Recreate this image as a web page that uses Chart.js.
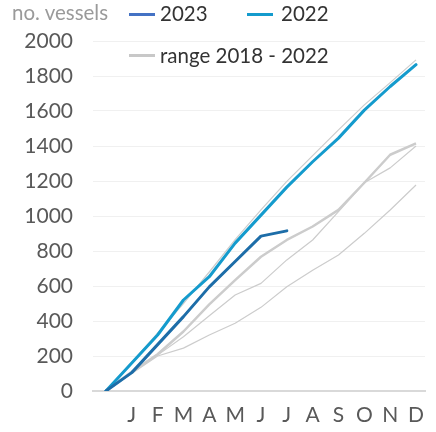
<!DOCTYPE html>
<html>
<head>
<meta charset="utf-8">
<script src="https://cdn.jsdelivr.net/npm/chart.js@4"></script>
<style>
  html, body { margin: 0; padding: 0; background: #fff; }
  #wrap { position: relative; width: 436px; height: 432px; font-family: Lato, sans-serif; }
  canvas { position: absolute; left: 0; top: 0; }
  .t { position: absolute; font-size: 20.5px; line-height: 24px; white-space: nowrap; color: #333; }
  .sw { position: absolute; height: 3px; width: 26px; }
</style>
</head>
<body>
<div id="wrap">
  <canvas id="c" width="436" height="432"></canvas>
  <div class="t" style="left:12px; top:0px; color:#9a9a9a;">no. vessels</div>
  <div class="sw" style="left:129px; top:13px; background:#4472c4;"></div>
  <div class="t" style="left:160px; top:1px;">2023</div>
  <div class="sw" style="left:247px; top:13px; background:#149bcd;"></div>
  <div class="t" style="left:281px; top:1px;">2022</div>
  <div class="sw" style="left:129px; top:54px; background:#c8c8c8;"></div>
  <div class="t" style="left:160px; top:43px;">range 2018 - 2022</div>
</div>
<script>
// categories (index 0 = start of year)
const months = ['J','F','M','A','M','J','J','A','S','O','N','D'];
const yTicks = [0,200,400,600,800,1000,1200,1400,1600,1800,2000];

// series values (cumulative, no. vessels)
const s2023 = [0, 105, 265, 425, 595, 740, 885, 915];
const s2022 = [0, 160, 320, 520, 653, 845, 1005, 1165, 1310, 1445, 1605, 1740, 1865];
const rangeA = [0, 165, 330, 500, 680, 865, 1035, 1198, 1345, 1492, 1635, 1762, 1892];
const rangeB = [0, 110, 210, 340, 495, 634, 767, 863, 940, 1035, 1190, 1350, 1415];
const rangeC = [0, 105, 205, 310, 430, 549, 615, 749, 863, 1025, 1190, 1275, 1400];
const rangeD = [0, 100, 200, 245, 320, 387, 478, 596, 690, 777, 901, 1034, 1177];

const toXY = arr => arr.map((v, i) => ({ x: i, y: v }));

function grey(arr, w) {
  return {
    label: 'range 2018 - 2022', data: toXY(arr), borderColor: '#cccccc',
    borderWidth: w, pointRadius: 0, order: 5, borderJoinStyle: 'round'
  };
}

function draw() {
  new Chart(document.getElementById('c'), {
    type: 'line',
    data: {
      datasets: [
        { label: '2023', data: toXY(s2023), borderColor: '#1d6da8', borderWidth: 3,
          pointRadius: 0, order: 0, borderCapStyle: 'round', borderJoinStyle: 'round' },
        { label: '2022', data: toXY(s2022), borderColor: '#149bcd', borderWidth: 3,
          pointRadius: 0, order: 1, borderCapStyle: 'round', borderJoinStyle: 'round' },
        grey(rangeA, 1.2),
        grey(rangeB, 2.5),
        grey(rangeC, 1.2),
        grey(rangeD, 1.2)
      ]
    },
    options: {
      responsive: false,
      animation: false,
      layout: { padding: { left: 0, top: 41, right: 0, bottom: 0 } },
      plugins: { legend: { display: false }, tooltip: { enabled: false } },
      scales: {
        x: {
          type: 'linear', min: -0.5, max: 12.35,
          afterBuildTicks: s => { s.ticks = months.map((m, i) => ({ value: i + 1 })); },
          afterFit: s => { s.height = 41; },
          ticks: { callback: v => months[v - 1], color: '#595959', padding: 12, maxRotation: 0,
                   autoSkip: false, font: { family: 'Lato', size: 21 } },
          grid: { display: false, drawTicks: false },
          border: { display: true, color: '#d9d9d9', width: 2 }
        },
        y: {
          min: 0, max: 2000,
          afterBuildTicks: s => { s.ticks = yTicks.map(v => ({ value: v })); },
          afterFit: s => { s.width = 93; },
          ticks: { callback: v => String(v), color: '#595959', padding: 20,
                   font: { family: 'Lato', size: 21 } },
          grid: { color: '#f0f0f0', lineWidth: 1, drawTicks: false },
          border: { display: false }
        }
      }
    }
  });
}
document.fonts.load('21px Lato').then(draw, draw);
</script>
</body>
</html>
